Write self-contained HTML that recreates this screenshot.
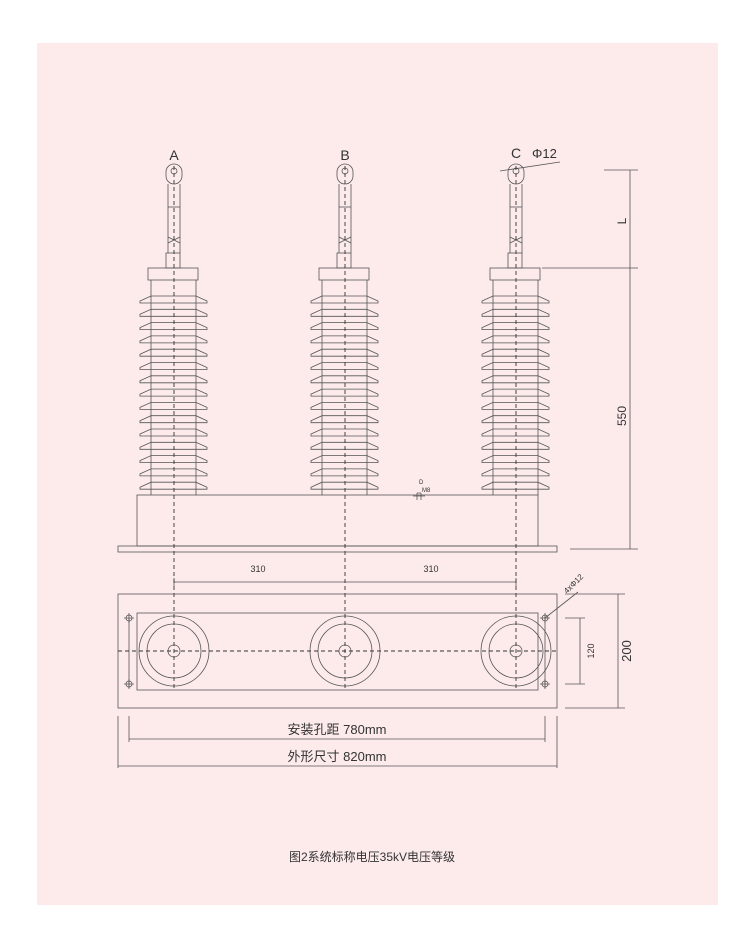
<!DOCTYPE html>
<html><head><meta charset="utf-8"><style>
body{margin:0;background:#fff;width:755px;height:947px;overflow:hidden}
svg{display:block}
text{font-family:"Liberation Sans","Noto Sans CJK SC",sans-serif;fill:#333}
</style></head><body>
<svg width="755" height="947" viewBox="0 0 755 947" xmlns="http://www.w3.org/2000/svg">
<rect x="37" y="43" width="681" height="862" fill="#fdebec"/>
<defs>
<path id="shed" d="M-34 301 L-23 296 H22 L33 301 L33 303 H-34 Z" stroke="#555" stroke-width="0.8" fill="none"/>
<g id="ins" stroke="#555" stroke-width="0.8" fill="none">
<rect x="-8" y="164" width="16" height="20" rx="8"/>
<circle cx="0" cy="171" r="3"/>
<line x1="-6" y1="184" x2="-6" y2="253"/><line x1="6" y1="184" x2="6" y2="253"/>
<line x1="-6" y1="207" x2="6" y2="207"/>
<path d="M-6 237 l12 6 M-6 243 l12 -6"/>
<rect x="-8" y="253" width="14" height="15"/>
<rect x="-26" y="268" width="50" height="12"/>
<line x1="-23" y1="280" x2="-23" y2="495"/><line x1="22" y1="280" x2="22" y2="495"/>
<use href="#shed" y="0"/><use href="#shed" y="13.3"/><use href="#shed" y="26.6"/><use href="#shed" y="39.9"/><use href="#shed" y="53.2"/><use href="#shed" y="66.5"/><use href="#shed" y="79.8"/><use href="#shed" y="93.1"/><use href="#shed" y="106.4"/><use href="#shed" y="119.7"/><use href="#shed" y="133"/><use href="#shed" y="146.3"/><use href="#shed" y="159.6"/><use href="#shed" y="172.9"/><use href="#shed" y="186.2"/>
</g>
<g id="circ" stroke="#555" stroke-width="0.8" fill="none">
<circle r="35"/><circle r="27"/><circle r="6"/>
</g>
</defs>
<use href="#ins" x="174"/><use href="#ins" x="345"/><use href="#ins" x="516"/>
<g stroke="#555" stroke-width="0.8" fill="none">
<rect x="137" y="495" width="401" height="51"/>
<rect x="118" y="546" width="439" height="6"/>
<rect x="118" y="594" width="439" height="114"/>
<rect x="137" y="613" width="401" height="77"/>
<line x1="129" y1="618" x2="129" y2="688"/><line x1="545" y1="618" x2="545" y2="688"/>
<path d="M604 170 H638 M542 268 H638 M570 549 H638 M630 170 V549"/>
<path d="M500 171 L560 162"/>
<path d="M174 582 H345 H516 M174 578 V586 M516 578 V586"/>
<path d="M565 618 H585 M565 684 H585 M580 618 V684"/>
<path d="M565 594 H625 M565 708 H625 M618 594 V708"/>
<path d="M545 618 L578 592"/>
<path d="M129 716 V742 M545 716 V742 M129 739 H545"/>
<path d="M118 716 V768 M557 716 V768 M118 766 H557"/>
<path d="M417 493 V500 M421 493 V500 M417 493 H421 M413 496 H425"/>
</g>
<g stroke="#555" stroke-width="0.8" fill="none">
<use href="#circ" x="174" y="651"/><use href="#circ" x="345" y="651"/><use href="#circ" x="516" y="651"/>
</g>
<g stroke="#555" stroke-width="0.8">
<circle cx="129" cy="618" r="3" fill="none"/><circle cx="129" cy="684" r="3" fill="none"/>
<circle cx="545" cy="618" r="3" fill="none"/><circle cx="545" cy="684" r="3" fill="none"/>
<path d="M124 618 H134 M129 613 V623 M124 684 H134 M129 679 V689 M540 618 H550 M545 613 V623 M540 684 H550 M545 679 V689"/>
</g>
<g stroke="#333" stroke-width="0.9" stroke-dasharray="4,3" fill="none">
<line x1="174" y1="166" x2="174" y2="690"/>
<line x1="345" y1="166" x2="345" y2="690"/>
<line x1="516" y1="166" x2="516" y2="690"/>
<line x1="118" y1="651" x2="557" y2="651"/>
</g>
<text x="174" y="160" font-size="14" text-anchor="middle">A</text>
<text x="345" y="160" font-size="14" text-anchor="middle">B</text>
<text x="516" y="158" font-size="14" text-anchor="middle">C</text>
<text x="532" y="158" font-size="13">Φ12</text>
<text x="258" y="572" font-size="9" text-anchor="middle">310</text>
<text x="431" y="572" font-size="9" text-anchor="middle">310</text>
<text x="419" y="484" font-size="6">D</text>
<text x="422" y="492" font-size="6">M8</text>
<text transform="translate(626,221) rotate(-90)" font-size="12" text-anchor="middle">L</text>
<text transform="translate(626,416) rotate(-90)" font-size="12" text-anchor="middle">550</text>
<text transform="translate(594,651) rotate(-90)" font-size="9" text-anchor="middle">120</text>
<text transform="translate(631,651) rotate(-90)" font-size="13" text-anchor="middle">200</text>
<text transform="translate(567,594) rotate(-45)" font-size="8">4xΦ12</text>
<text x="337" y="734" font-size="13" text-anchor="middle">安装孔距 780mm</text>
<text x="337" y="761" font-size="13" text-anchor="middle">外形尺寸 820mm</text>
<text x="372" y="861" font-size="12" text-anchor="middle">图2系统标称电压35kV电压等级</text>
</svg>
</body></html>
